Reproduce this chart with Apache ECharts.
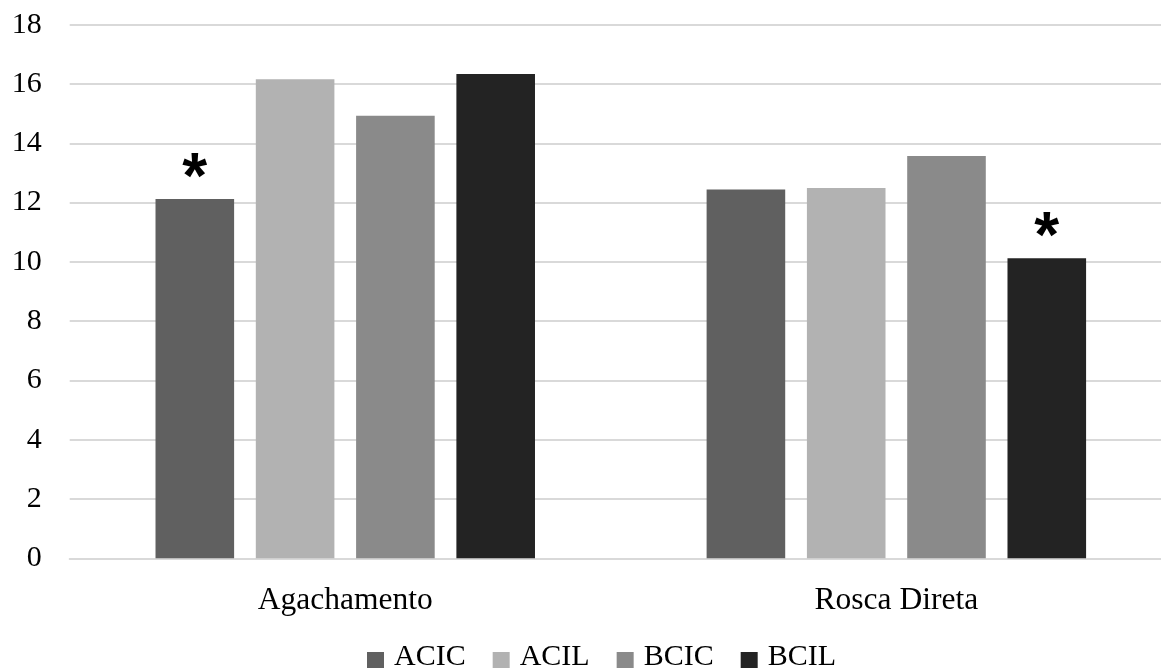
<!DOCTYPE html>
<html>
<head>
<meta charset="utf-8">
<script src="https://cdn.jsdelivr.net/npm/echarts@6/dist/echarts.min.js"></script>
<style>
html,body{margin:0;padding:0;background:#fff;overflow:hidden;width:1161px;height:670px;}
#chart{width:1190px;height:670px;}
</style>
</head>
<body>
<div id="chart"></div>
<script>
const categories = ['Agachamento', 'Rosca Direta'];
const seriesNames = ['ACIC', 'ACIL', 'BCIC', 'BCIL'];
const ACIC = [12.12, 12.44];
const ACIL = [16.16, 12.49];
const BCIC = [14.93, 13.57];
const BCIL = [16.34, 10.12];
const significant = { ACIC: [true, false], ACIL: [false, false], BCIC: [false, false], BCIL: [false, true] };
const yTicks = { min: 0, max: 18, interval: 2 };

const values = { ACIC, ACIL, BCIC, BCIL };
const colors = { ACIC: '#606060', ACIL: '#b2b2b2', BCIC: '#8a8a8a', BCIL: '#232323' };
const FONT = '"Liberation Serif", "Times New Roman", serif';
const legendIcon = 'path://M0,11 L17,11 L17,27 L0,27 Z M22,0 L22,0.01 L21.99,0 Z M0,32 L0.01,32 L0,31.99 Z';

const chart = echarts.init(document.getElementById('chart'), null, { renderer: 'canvas' });
chart.setOption({
  animation: false,
  backgroundColor: '#ffffff',
  grid: { left: 69.7, top: 24.7, width: 1102.2, height: 533.6, containLabel: false },
  legend: {
    data: seriesNames,
    left: 367,
    top: 641,
    padding: 0,
    itemWidth: 22,
    itemHeight: 32,
    itemGap: 27,
    icon: legendIcon,
    textStyle: { fontFamily: FONT, fontSize: 30, color: '#000' }
  },
  xAxis: {
    type: 'category',
    data: categories,
    axisLine: { show: true, lineStyle: { color: '#d9d9d9', width: 2 } },
    axisTick: { show: false },
    axisLabel: { fontFamily: FONT, fontSize: 31.5, color: '#000', margin: 26 }
  },
  yAxis: {
    type: 'value',
    min: yTicks.min, max: yTicks.max, interval: yTicks.interval,
    axisLine: { show: false },
    axisTick: { show: false },
    splitLine: { lineStyle: { color: '#d9d9d9', width: 2 } },
    axisLabel: { fontFamily: FONT, fontSize: 30, color: '#000', margin: 28 }
  },
  series: seriesNames.map(name => ({
    name,
    type: 'bar',
    barWidth: 78.6,
    barGap: '27.6%',
    itemStyle: { color: colors[name] },
    data: values[name].map((v, i) => significant[name][i]
      ? { value: v, label: { show: true, position: 'top', formatter: '*', fontFamily: '"Liberation Sans", Arial, sans-serif', fontWeight: 'bold', fontSize: 64, color: '#000', distance: -13 } }
      : v)
  }))
});
</script>
</body>
</html>
